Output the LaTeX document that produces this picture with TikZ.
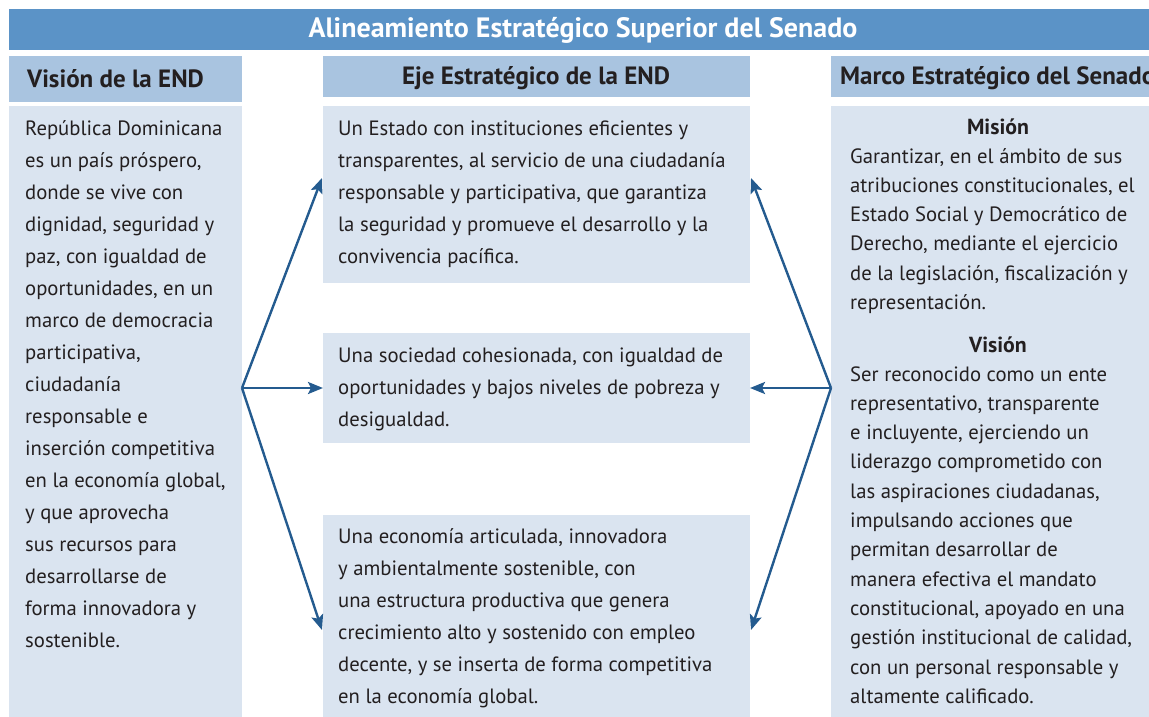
\documentclass[tikz,border=0pt]{standalone}
\usepackage{fontspec}
\setmainfont{PT Sans}
\usetikzlibrary{arrows.meta}
\definecolor{titlebar}{HTML}{5B93C7}
\definecolor{headbg}{HTML}{A9C4E0}
\definecolor{bodybg}{HTML}{DAE4F0}
\definecolor{arrowc}{HTML}{245B8F}
\definecolor{txt}{HTML}{231F20}
\begin{document}
\begin{tikzpicture}[x=1pt,y=-1pt,
  body/.style={anchor=base west,inner sep=0pt,align=left,text=txt,font=\fontsize{20.7}{32}\selectfont},
  bodyr/.style={anchor=base west,inner sep=0pt,align=left,text=txt,font=\fontsize{20.7}{29.3}\selectfont},
  head/.style={inner sep=0pt,text=txt,font=\bfseries\fontsize{25}{28}\selectfont},
  sub/.style={inner sep=0pt,anchor=base,text=txt,font=\bfseries\fontsize{21.8}{24}\selectfont},
  conn/.style={draw=arrowc,line width=2.4pt,-{Stealth[length=15pt,width=12pt,inset=3pt]}}]
\useasboundingbox (0,0) rectangle (1149,717);
% bars and boxes
\fill[titlebar] (9,9) rectangle (1149,50);
\fill[headbg] (9,56) rectangle (242,102);
\fill[headbg] (323,56) rectangle (750,97);
\fill[headbg] (831,56) rectangle (1149,97);
\fill[bodybg] (9,106) rectangle (242,717);
\fill[bodybg] (323,106) rectangle (750,283);
\fill[bodybg] (323,333) rectangle (750,443);
\fill[bodybg] (323,515) rectangle (750,717);
\fill[bodybg] (831,106) rectangle (1149,717);
% titles
\node[inner sep=0pt,text=white,font=\bfseries\fontsize{28}{32}\selectfont] (title) at (583,30) {Alineamiento Estratégico Superior del Senado};
\node[head,anchor=west] (h1) at (27,79) {Visión de la END};
\node[head] (h2) at (536,78) {Eje Estratégico de la END};
\node[head,anchor=west] (h3) at (840,78) {Marco Estratégico del Senado};
% left body (anchored at the baseline of its last line)
\node[body] (vis) at (25,647) {República Dominicana\\es un país próspero,\\donde se vive con\\dignidad, seguridad y\\paz, con igualdad de\\oportunidades, en un\\marco de democracia\\participativa,\\ciudadanía\\responsable e\\inserción competitiva\\en la economía global,\\y que aprovecha\\sus recursos para\\desarrollarse de\\forma innovadora y\\sostenible.};
% middle
\node[body] (m1) at (338,263) {Un Estado con instituciones eficientes y\\transparentes, al servicio de una ciudadanía\\responsable y participativa, que garantiza\\la seguridad y promueve el desarrollo y la\\convivencia pacífica.};
\node[body] (m2) at (338,426) {Una sociedad cohesionada, con igualdad de\\oportunidades y bajos niveles de pobreza y\\desigualdad.};
\node[body] (m3) at (338,703) {Una economía articulada, innovadora\\y ambientalmente sostenible, con\\una estructura productiva que genera\\crecimiento alto y sostenido con empleo\\decente, y se inserta de forma competitiva\\en la economía global.};
% right
\node[sub] (mis) at (998,134) {Misión};
\node[bodyr] (misT) at (850,309.5) {Garantizar, en el ámbito de sus\\atribuciones constitucionales, el\\Estado Social y Democrático de\\Derecho, mediante el ejercicio\\de la legislación, fiscalización y\\representación.};
\node[sub] (vsn) at (998,352) {Visión};
\node[bodyr] (vsnT) at (850,703.3) {Ser reconocido como un ente\\representativo, transparente\\e incluyente, ejerciendo un\\liderazgo comprometido con\\las aspiraciones ciudadanas,\\impulsando acciones que\\permitan desarrollar de\\manera efectiva el mandato\\constitucional, apoyado en una\\gestión institucional de calidad,\\con un personal responsable y\\altamente calificado.};
% connectors
\coordinate (L) at (242,388);
\coordinate (R) at (831,388);
\coordinate (t1) at (322,178);
\coordinate (t2) at (323,388);
\coordinate (t3) at (322,630);
\coordinate (u1) at (751,178);
\coordinate (u2) at (750,388);
\coordinate (u3) at (751,630);
\draw[conn] (L) -- (t1);
\draw[conn] (L) -- (t2);
\draw[conn] (L) -- (t3);
\draw[conn] (R) -- (u1);
\draw[conn] (R) -- (u2);
\draw[conn] (R) -- (u3);
\end{tikzpicture}
\end{document}
